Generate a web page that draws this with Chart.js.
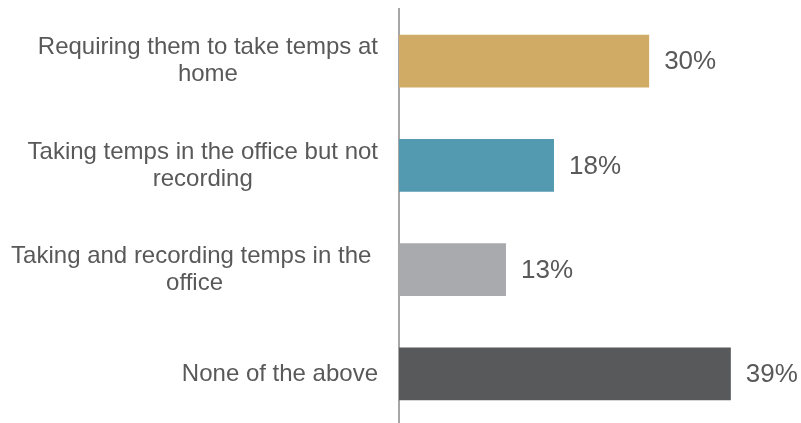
<!DOCTYPE html>
<html>
<head>
<meta charset="utf-8">
<script src="https://cdn.jsdelivr.net/npm/chart.js@4"></script>
<style>
    html, body { margin: 0; padding: 0; background: #fff; overflow: hidden; }
    #wrap { width: 801px; height: 426px; }
</style>
</head>
<body>
<div id="wrap"><canvas id="myChart"></canvas></div>
<script>
// categories, each one already split in lines like the original
const categories = [
    ['Requiring them to take temps at', 'home'],
    ['Taking temps in the office but not', 'recording'],
    ['Taking and recording temps in the ', 'office'],
    ['None of the above']
];
// share of respondents (%)
const values = [29.7, 18.4, 12.7, 39.4];
const colors = ['#CFAB66', '#5399B0', '#A9AAAD', '#58595B'];

const textColor = '#595959';
const fontName = '"Liberation Sans", Arial, sans-serif';

// draws the category names (right aligned block, centered lines)
// and the value labels after each bar
const labelPlugin = {
    id: 'labelPlugin',
    afterDatasetsDraw(chart) {
        const ctx = chart.ctx;
        const yScale = chart.scales.y;
        const left = chart.chartArea.left;
        ctx.save();
        ctx.fillStyle = textColor;

        // category labels
        ctx.font = '24px ' + fontName;
        ctx.textBaseline = 'middle';
        ctx.textAlign = 'center';
        const lineH = 27;
        categories.forEach((lines, i) => {
            const yc = yScale.getPixelForValue(i);
            let w = 0;
            lines.forEach(l => { w = Math.max(w, ctx.measureText(l).width); });
            const xc = left - 21 - w / 2;
            const y0 = yc - (lines.length - 1) * lineH / 2;
            lines.forEach((l, j) => {
                ctx.fillText(l, xc, y0 + j * lineH);
            });
        });

        // value labels
        ctx.font = '26px ' + fontName;
        ctx.textAlign = 'left';
        const meta = chart.getDatasetMeta(0);
        meta.data.forEach((bar, i) => {
            ctx.fillText(Math.round(values[i]) + '%', bar.x + 15, bar.y + 1);
        });
        ctx.restore();
    }
};

function draw() {
    const ctx = document.getElementById('myChart');
    const myChart = new Chart(ctx, {
        type: 'bar',
        data: {
            labels: categories,
            datasets: [{
                data: values,
                backgroundColor: colors,
                borderWidth: 0,
                categoryPercentage: 1,
                barPercentage: 0.505
            }]
        },
        options: {
            indexAxis: 'y',
            responsive: true,
            maintainAspectRatio: false,
            animation: false,
            layout: {
                padding: { left: 391, right: 23, top: 9, bottom: 0 }
            },
            plugins: {
                legend: { display: false },
                tooltip: { enabled: false }
            },
            scales: {
                x: {
                    min: 0,
                    max: 45,
                    display: false
                },
                y: {
                    ticks: { display: false },
                    grid: { display: false },
                    border: { display: true, color: '#A6A6A6', width: 2 }
                }
            }
        },
        plugins: [labelPlugin]
    });
}

document.fonts.load('24px "Liberation Sans"').then(draw, draw);
</script>
</body>
</html>
